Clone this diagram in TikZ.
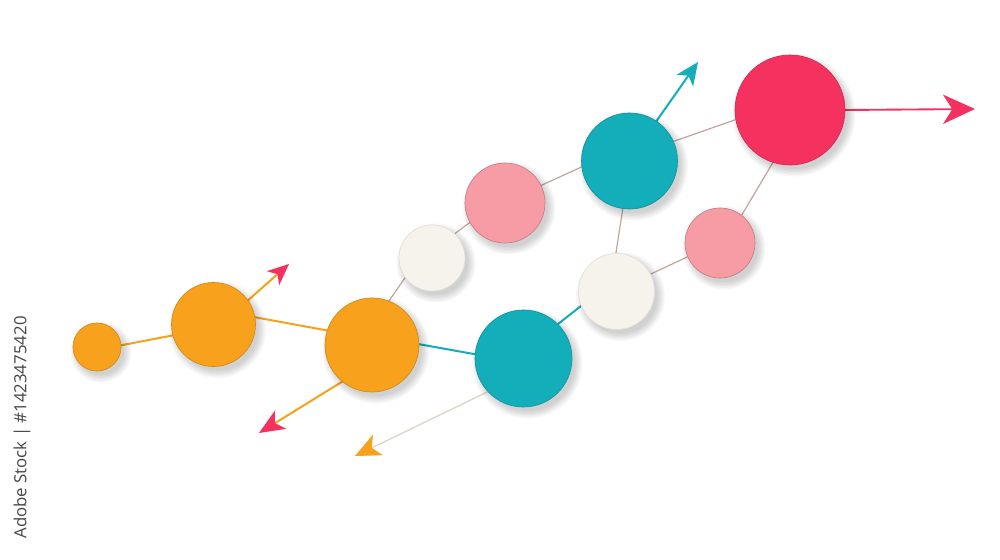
\documentclass[tikz,border=0pt]{standalone}
\usepackage{fontspec}
\newfontfamily\wmfont{Open Sans}
\usetikzlibrary{arrows.meta}
\definecolor{dotorange}{RGB}{247,161,28}
\definecolor{dotteal}{RGB}{20,173,186}
\definecolor{dotred}{RGB}{245,50,95}
\definecolor{dotpink}{RGB}{247,156,164}
\definecolor{dotcream}{RGB}{246,242,236}
\definecolor{linkgrey}{RGB}{190,166,160}
\definecolor{linkbeige}{RGB}{222,212,202}
\definecolor{wmgrey}{RGB}{70,70,70}
\pgfdeclarelayer{back}
\pgfdeclarelayer{edges}
\pgfdeclarelayer{shade}
\pgfsetlayers{back,edges,shade,main}
\tikzset{
  dot/.style={circle,inner sep=0pt,outer sep=0pt,line width=0.5pt},
  orangedot/.style={dot,fill=dotorange,draw=dotorange!85!black},
  tealdot/.style={dot,fill=dotteal,draw=dotteal!85!black},
  reddot/.style={dot,fill=dotred,draw=dotred!85!black},
  pinkdot/.style={dot,fill=dotpink,draw=dotpink!80!black},
  creamdot/.style={dot,fill=dotcream,draw=dotcream!92!black},
  orangelink/.style={draw=dotorange,line width=1.5pt},
  teallink/.style={draw=dotteal,line width=1.5pt},
  greylink/.style={draw=linkgrey,line width=0.9pt},
  beigelink/.style={draw=linkbeige,line width=1pt},
  softshade/.style={fill=black,opacity=0.03},
}
\begin{document}
\begin{tikzpicture}[x=0.75pt,y=-0.75pt]
\useasboundingbox (0,0) rectangle (1000,560);
\begin{pgfonlayer}{back}
\fill[white] (0,0) rectangle (1000,560);
\end{pgfonlayer}
% circles
\node[orangedot,minimum size=36pt]   (so) at (97,347) {};
\node[orangedot,minimum size=63pt]   (mo) at (213.5,324.5) {};
\node[orangedot,minimum size=70.5pt] (ob) at (372,345) {};
\node[creamdot,minimum size=49.5pt]  (wl) at (432,258) {};
\node[pinkdot,minimum size=60pt]     (pl) at (505,203) {};
\node[tealdot,minimum size=72pt]     (tt) at (629.5,161) {};
\node[reddot,minimum size=82.5pt]    (rd) at (790,110) {};
\node[pinkdot,minimum size=52.5pt]   (pr) at (720,243) {};
\node[creamdot,minimum size=57pt]    (wr) at (616.5,291.5) {};
\node[tealdot,minimum size=72.75pt]  (tb) at (523.5,358.5) {};
% soft shadows
\begin{pgfonlayer}{shade}
\foreach \n/\r in {so/24,mo/42,ob/47,wl/33,pl/40,tt/48,rd/55,pr/35,wr/38,tb/48.5}{
  \foreach \k in {-1,0.5,2,3.5,5,6.5}{
    \fill[softshade] ([shift={(4,5)}]\n.center) circle (\r+\k);
  }
}
\end{pgfonlayer}
% free arrow ends
\coordinate (t1) at (289,264);
\coordinate (t2) at (259,433);
\coordinate (t3) at (355,456);
\coordinate (t4) at (698,62);
\coordinate (t5) at (975,109);
\begin{pgfonlayer}{edges}
\draw[orangelink] (so.4) -- (mo.195);
\draw[orangelink] (mo.10) -- (ob.162);
\draw[teallink] (ob.1) -- (tb.175);
\draw[greylink] (ob.69) -- (wl.216);
\draw[greylink] (wl.47) -- (pl.209);
\draw[greylink] (pl.26) -- (tt.187);
\draw[greylink] (tt.24) -- (rd.190);
\draw[greylink] (tt.262) -- (wr.91);
\draw[greylink] (wr.27) -- (pr.203);
\draw[greylink] (pr.52) -- (rd.252);
\draw[teallink] (tb.45) -- (wr.202);
% arrows
\draw[orangelink,-{Stealth[length=16pt,width=14pt,inset=4.5pt,color=dotred]}] (mo.35) -- (t1);
\draw[orangelink,-{Stealth[length=19pt,width=16pt,inset=5pt,color=dotred]}] (ob.231) -- (t2);
\draw[beigelink,-{Stealth[length=19pt,width=17pt,inset=5pt,color=dotorange]}] (tb.223) -- (t3);
\draw[teallink,-{Stealth[length=17pt,width=15pt,inset=4.5pt]}] (tt.56) -- (t4);
\draw[draw=dotred,line width=1.4pt,-{Stealth[length=24pt,width=22pt,inset=7pt]}] (rd.0) -- (t5);
\end{pgfonlayer}
% vertical stock label
\node[rotate=90,font=\wmfont\fontsize{12.6pt}{14pt}\selectfont,text=wmgrey,inner sep=0pt] (wm) at (22,427.5) {Adobe Stock | \#1423475420};
\end{tikzpicture}
\end{document}
